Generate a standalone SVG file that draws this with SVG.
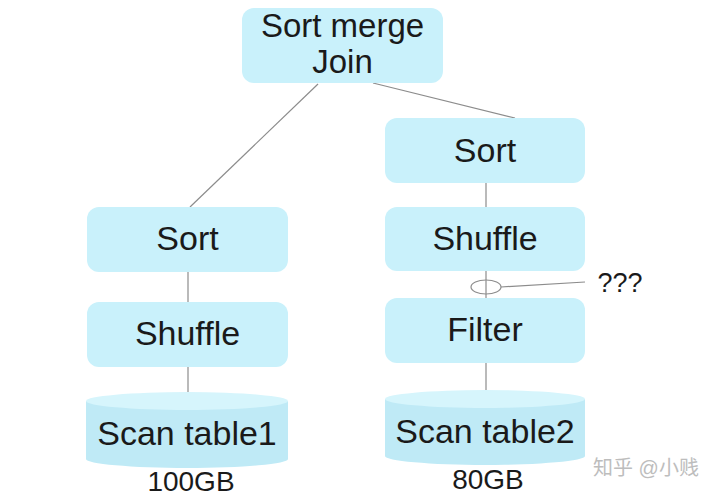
<svg xmlns="http://www.w3.org/2000/svg" width="720" height="498" viewBox="0 0 720 498">
<style>
.box{fill:#c9f1fb;}
.cyl{fill:#bfeaf6;}
.cyltop{fill:#d6f5fc;}
.t{font-family:"Liberation Sans",Arial,sans-serif;font-size:34px;fill:#1a1a1a;text-anchor:middle;}
.lbl{font-family:"Liberation Sans",Arial,sans-serif;font-size:28px;fill:#1a1a1a;text-anchor:middle;}
.ln{stroke:#8c8c8c;stroke-width:1.2;fill:none;}
</style>
<rect width="720" height="498" fill="#ffffff"/>
<g id="connectors">
<line class="ln" x1="318" y1="84" x2="190" y2="207"/>
<line class="ln" x1="373" y1="83" x2="515" y2="118"/>
<line class="ln" x1="188" y1="272" x2="188" y2="302"/>
<line class="ln" x1="188" y1="367" x2="188" y2="393"/>
<line class="ln" x1="486" y1="183" x2="486" y2="207"/>
<line class="ln" x1="486" y1="271" x2="486" y2="298"/>
<line class="ln" x1="486" y1="363" x2="486" y2="390"/>
<ellipse class="ln" cx="486" cy="287" rx="15" ry="7" stroke="#555"/>
<line class="ln" x1="501" y1="287" x2="585" y2="282"/>
</g>
<g id="join">
<rect class="box" x="242" y="8" width="201" height="75" rx="12"/>
<text class="t" x="342.5" y="37" style="font-size:33px">Sort merge</text>
<text class="t" x="342.5" y="73" style="font-size:33px">Join</text>
</g>
<g id="sort1">
<rect class="box" x="87" y="207" width="201" height="65" rx="12"/>
<text class="t" x="187.5" y="250">Sort</text>
</g>
<g id="shuffle1">
<rect class="box" x="87" y="302" width="201" height="65" rx="12"/>
<text class="t" x="187.5" y="345">Shuffle</text>
</g>
<g id="scan1">
<path class="cyl" d="M86,401 L86,459 A101,9 0 0 0 288,459 L288,401 Z"/>
<ellipse class="cyltop" cx="187" cy="401" rx="101" ry="9"/>
<text class="t" x="187" y="445">Scan table1</text>
<text class="lbl" x="191" y="491">100GB</text>
</g>
<g id="sort2">
<rect class="box" x="385" y="118" width="200" height="65" rx="12"/>
<text class="t" x="485" y="162">Sort</text>
</g>
<g id="shuffle2">
<rect class="box" x="385" y="207" width="200" height="64" rx="12"/>
<text class="t" x="485" y="250">Shuffle</text>
</g>
<g id="filter">
<rect class="box" x="385" y="298" width="200" height="65" rx="12"/>
<text class="t" x="485" y="341">Filter</text>
</g>
<g id="scan2">
<path class="cyl" d="M385,399 L385,456 A100,9 0 0 0 585,456 L585,399 Z"/>
<ellipse class="cyltop" cx="485" cy="399" rx="100" ry="9"/>
<text class="t" x="485" y="443">Scan table2</text>
<text class="lbl" x="488" y="489">80GB</text>
</g>
<g id="question">
<text class="lbl" x="620" y="292" style="font-size:27px">???</text>
</g>
<text x="646" y="475" style="font-family:'Liberation Sans','Noto Sans CJK SC',sans-serif;font-size:20px;fill:#bdbdbd;text-anchor:middle">知乎 @小贱</text>
</svg>
